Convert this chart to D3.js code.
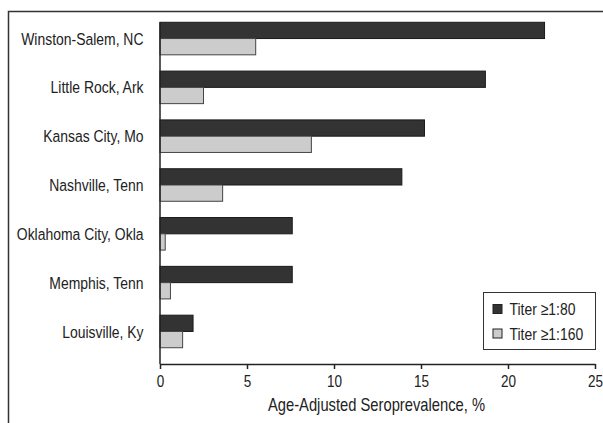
<!DOCTYPE html>
<html>
<head>
<meta charset="utf-8">
<script src="https://cdn.jsdelivr.net/npm/d3@7"></script>
<style>
  body { margin: 0; background: #fff; }
  svg text { font-family: "Liberation Sans", Arial, sans-serif; fill: #222; }
</style>
</head>
<body>
<div class="tuxing"></div>
<script>
// data
var cities = ["Winston-Salem, NC", "Little Rock, Ark", "Kansas City, Mo", "Nashville, Tenn",
              "Oklahoma City, Okla", "Memphis, Tenn", "Louisville, Ky"];
var titer80  = [22.1, 18.7, 15.2, 13.9, 7.6, 7.6, 1.9];
var titer160 = [5.5, 2.5, 8.7, 3.6, 0.3, 0.6, 1.3];
var seriesNames = ["Titer \u22651:80", "Titer \u22651:160"];
var seriesColors = ["#333333", "#cccccc"];
var xTicks = [0, 5, 10, 15, 20, 25];
var xTitle = "Age-Adjusted Seroprevalence, %";

var width = 603, height = 423;
var narrow = 0.82; // condensed look, no narrow font installed

function place(sel, px, py) {
    sel.attr("transform", "translate(" + px + "," + py + ") scale(" + narrow + ",1)");
}

var svg = d3.select(".tuxing")
    .append("svg")
    .attr("width", width)
    .attr("height", height);

// outer frame (only top + left are visible in the picture)
svg.append("path")
    .attr("d", "M8.5,423V11.5H603")
    .attr("fill", "none")
    .attr("stroke", "#333")
    .attr("stroke-width", 1.5);

var x = d3.scaleLinear().domain([0, 25]).range([160, 595]);
var y = d3.scaleBand().domain(cities).range([6, 364]).paddingInner(1 / 3).paddingOuter(1 / 3);
var sub = d3.scaleBand().domain([0, 1]).range([0, y.bandwidth()]);

var rows = cities.map(function (c, i) {
    return { city: c, vals: [titer80[i], titer160[i]] };
});

var g = svg.selectAll("g.city")
    .data(rows)
    .enter()
    .append("g")
    .attr("class", "city")
    .attr("transform", function (d) { return "translate(0," + y(d.city) + ")"; });

g.selectAll("rect")
    .data(function (d) { return d.vals; })
    .enter()
    .append("rect")
    .attr("x", x(0))
    .attr("y", function (d, i) { return sub(i); })
    .attr("width", function (d) { return x(d) - x(0); })
    .attr("height", sub.bandwidth())
    .attr("fill", function (d, i) { return seriesColors[i]; })
    .attr("stroke", function (d, i) { return i === 0 ? "#1a1a1a" : "#444"; })
    .attr("stroke-width", 1);

// city labels
svg.selectAll("text.city")
    .data(cities)
    .enter()
    .append("text")
    .attr("class", "city")
    .attr("dy", "0.36em")
    .attr("text-anchor", "end")
    .attr("font-size", 17)
    .text(function (d) { return d; })
    .each(function (d) { place(d3.select(this), 143.5, y(d) + y.bandwidth() / 2); });

// left axis line
svg.append("line")
    .attr("x1", x(0)).attr("x2", x(0))
    .attr("y1", y(cities[0])).attr("y2", 364)
    .attr("stroke", "#222").attr("stroke-width", 1.5);

// x axis
var xAxis = svg.append("g")
    .attr("transform", "translate(0,364)")
    .call(d3.axisBottom(x).tickValues(xTicks).tickSize(5).tickSizeOuter(0).tickFormat(d3.format("d")));
xAxis.attr("font-family", null).attr("font-size", null);
xAxis.select(".domain").attr("stroke", "#222").attr("stroke-width", 1.5);
xAxis.selectAll(".tick line").attr("stroke", "#222").attr("stroke-width", 1.5);
xAxis.selectAll(".tick text")
    .attr("y", 0)
    .attr("dy", "0.71em")
    .attr("font-size", 16.5)
    .attr("fill", "#222")
    .call(place, 0, 11.5);

svg.append("text")
    .attr("text-anchor", "middle")
    .attr("font-size", 18)
    .text(xTitle)
    .call(place, 376.5, 411);

// legend
var lg = svg.append("g").attr("transform", "translate(483,292)");
lg.append("rect")
    .attr("x", 0.5).attr("y", 0.5)
    .attr("width", 112).attr("height", 57)
    .attr("fill", "#fff").attr("stroke", "#333").attr("stroke-width", 1);
var li = lg.selectAll("g.item")
    .data(seriesNames)
    .enter()
    .append("g")
    .attr("class", "item")
    .attr("transform", function (d, i) { return "translate(10," + (12.5 + i * 24.5) + ")"; });
li.append("rect")
    .attr("width", 9).attr("height", 9)
    .attr("fill", function (d, i) { return seriesColors[i]; })
    .attr("stroke", "#222").attr("stroke-width", 1);
li.append("text")
    .attr("dy", "0.36em")
    .attr("font-size", 17)
    .text(function (d) { return d; })
    .call(place, 16.5, 4.5);
</script>
</body>
</html>
